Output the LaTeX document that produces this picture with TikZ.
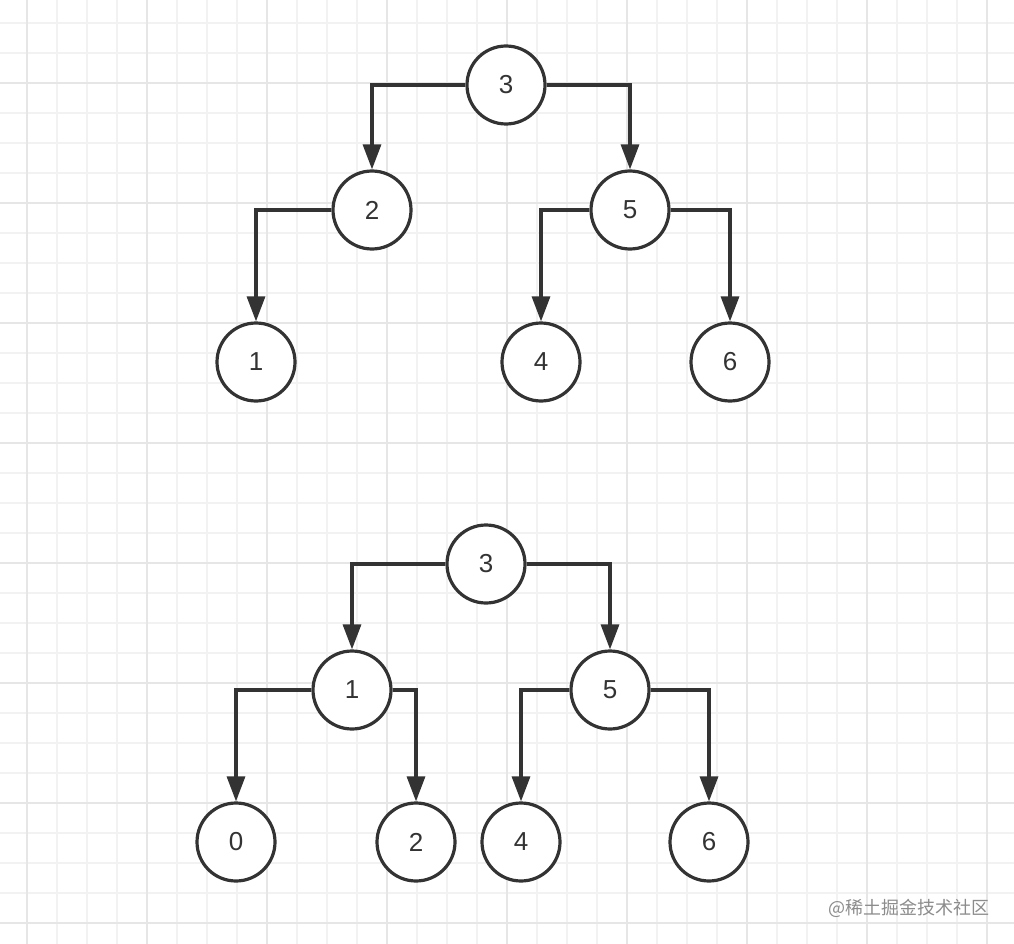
\documentclass[tikz,border=0pt]{standalone}
\usepackage{fontspec}
\setmainfont{Liberation Sans}
\newfontfamily\cjk{Noto Sans CJK SC}
\usetikzlibrary{arrows.meta}
\definecolor{ink}{HTML}{333333}
\definecolor{gridminor}{HTML}{F2F2F2}
\definecolor{gridmajor}{HTML}{E6E6E6}
\definecolor{mark}{HTML}{8C8C8C}
\tikzset{
  vtx/.style={circle,draw=ink,line width=3.2pt,minimum size=78pt,inner sep=0pt,
    fill=white,text=ink,font=\fontsize{26}{30}\selectfont},
  link/.style={draw=ink,line width=3.2pt,-{Triangle[length=25pt,width=18pt]}},
}
\begin{document}
\begin{tikzpicture}[x=1pt,y=-1pt]
\useasboundingbox (0,0) rectangle (1014,944);
\fill[white] (0,0) rectangle (1014,944);

% grid paper
\foreach \gx in {27,57,...,1007} \draw[gridminor,line width=1.6pt] (\gx,0) -- (\gx,944);
\foreach \gy in {23,53,...,943} \draw[gridminor,line width=1.6pt] (0,\gy) -- (1014,\gy);
\foreach \gx in {27,147,...,987} \draw[gridmajor,line width=1.8pt] (\gx,0) -- (\gx,944);
\foreach \gy in {83,203,...,923} \draw[gridmajor,line width=1.8pt] (0,\gy) -- (1014,\gy);

% first tree
\node[vtx] (t3) at (506,85) {3};
\node[vtx] (t2) at (372,210) {2};
\node[vtx] (t5) at (630,210) {5};
\node[vtx] (t1) at (256,362) {1};
\node[vtx] (t4) at (541,362) {4};
\node[vtx] (t6) at (730,362) {6};

\draw[link] (t3.west) -| (t2.north);
\draw[link] (t3.east) -| (t5.north);
\draw[link] (t2.west) -| (t1.north);
\draw[link] (t5.west) -| (t4.north);
\draw[link] (t5.east) -| (t6.north);

% second tree
\node[vtx] (b3) at (486,564) {3};
\node[vtx] (b1) at (352,690) {1};
\node[vtx] (b5) at (610,690) {5};
\node[vtx] (b0) at (236,842) {0};
\node[vtx] (b2) at (416,842) {2};
\node[vtx] (b4) at (521,842) {4};
\node[vtx] (b6) at (709,842) {6};

\draw[link] (b3.west) -| (b1.north);
\draw[link] (b3.east) -| (b5.north);
\draw[link] (b1.west) -| (b0.north);
\draw[link] (b1.east) -| (b2.north);
\draw[link] (b5.west) -| (b4.north);
\draw[link] (b5.east) -| (b6.north);

\node[anchor=east,text=mark,inner sep=0pt,font=\cjk\fontsize{18}{21}\selectfont] (wm) at (990,908) {@稀土掘金技术社区};
\end{tikzpicture}
\end{document}
